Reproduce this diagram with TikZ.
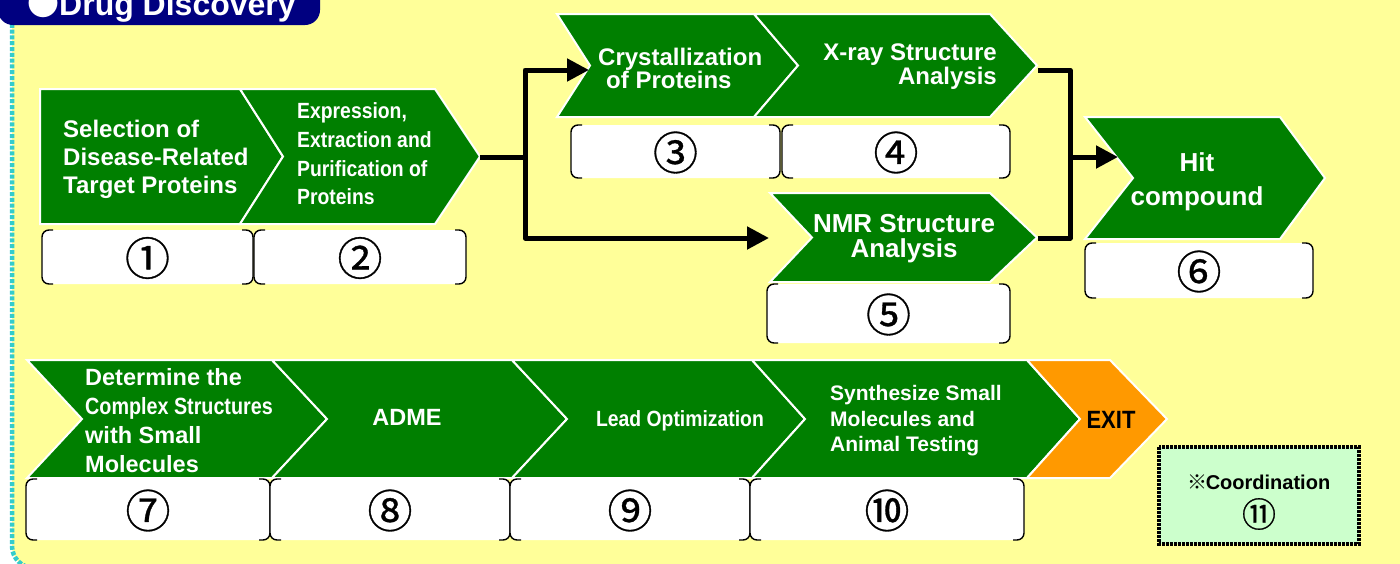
\documentclass[tikz,border=0pt]{standalone}
\usepackage{fontspec}
\setmainfont{Liberation Sans}
\newfontfamily\narf[FakeStretch=0.88]{Liberation Sans}
\newfontfamily\narg[FakeStretch=0.84]{Liberation Sans}
\newfontfamily\cjkf{Noto Sans CJK JP}
\newfontfamily\cjkn[FakeBold=0.7]{Noto Sans CJK JP}
\usetikzlibrary{arrows.meta}
\definecolor{bgyel}{HTML}{FFFF99}
\definecolor{tabnavy}{HTML}{000080}
\definecolor{chgreen}{HTML}{007F00}
\definecolor{chorange}{HTML}{FF9900}
\definecolor{bordcyan}{HTML}{33CCCC}
\definecolor{coordgreen}{HTML}{CCFFCC}
\tikzset{
  chev/.style={draw=white, line width=2pt, line join=miter},
  lbl/.style={text=white, inner sep=0pt},
  conn/.style={line width=5pt, black, line join=round},
  tipa/.style={-{Triangle[length=22pt,width=22pt]}},
  nbr/.style={line width=1.4pt, black, rounded corners=7pt},
  numtxt/.style={font=\cjkn\fontsize{45}{45}\selectfont, inner sep=0pt},
}
\newcommand\chevshape[7]{%
  \filldraw[chev, fill=#1] (#2,#4) -- (#3,#4) -- ({#3+#7},{(#4+#5)/2}) -- (#3,#5) -- (#2,#5) -- ({#2+#6},{(#4+#5)/2}) -- cycle;}
\newcommand\nbox[6]{%
  \fill[white, rounded corners=7pt] (#2,#4) rectangle (#3,#5);
  \draw[nbr] ({#2+11},#4) -- (#2,#4) -- (#2,#5) -- ({#2+11},#5);
  \draw[nbr] ({#3-11},#4) -- (#3,#4) -- (#3,#5) -- ({#3-11},#5);
  \node[numtxt] (#1) at ({(#2+#3)/2},{(#4+#5)/2+1}) {#6};}
\begin{document}
\begin{tikzpicture}[x=1pt,y=-1pt]
\useasboundingbox (0,0) rectangle (1400,563);
\fill[white] (0,0) rectangle (1400,563);
\fill[bgyel, rounded corners=22pt] (12,-40) -- (12,568) -- (1450,568) -- (1450,-40) -- cycle;
\draw[bordcyan, line width=4.5pt, dash pattern=on 4pt off 1.8pt, rounded corners=22pt] (12,-40) -- (12,568) -- (1450,568);
% title tab
\fill[tabnavy, rounded corners=15pt] (-2,-40) -- (-2,25) -- (320,25) -- (320,-40) -- cycle;
\node[anchor=base west, text=white, inner sep=0pt, font=\bfseries\fontsize{32}{32}\selectfont] (title) at (27,15) {{\cjkf ●}Drug Discovery};

% row 1 chevrons
\chevshape{chgreen}{40}{240}{89}{224}{0}{43}
\chevshape{chgreen}{240}{435}{89}{224}{43}{45}
\chevshape{chgreen}{557}{754}{14}{117}{33}{44}
\chevshape{chgreen}{754}{990}{14}{117}{44}{47}
\chevshape{chgreen}{770}{990}{193}{282}{42}{47}
\chevshape{chgreen}{1085}{1280}{117}{239}{48}{45}
% row 2 chevrons
\chevshape{chgreen}{27}{272}{360}{478}{55}{55}
\chevshape{chgreen}{272}{512}{360}{478}{55}{55}
\chevshape{chgreen}{512}{752}{360}{478}{55}{53}
\chevshape{chgreen}{752}{1027}{360}{478}{53}{53}
\chevshape{chorange}{1027}{1110}{360}{478}{53}{57}

% labels
\node[lbl, anchor=west, align=left, font=\bfseries\fontsize{24}{28}\selectfont] (t1) at (63,159) {Selection of\\Disease-Related\\Target Proteins};
\node[lbl, anchor=west, align=left, font=\narf\bfseries\fontsize{22}{28.7}\selectfont] (t2) at (297,154) {Expression,\\Extraction and\\Purification of\\Proteins};
\node[lbl, anchor=west, align=left, font=\bfseries\fontsize{24}{23}\selectfont] (t3) at (598,68) {Crystallization\\\hspace*{8pt}of Proteins};
\node[lbl, anchor=east, align=right, font=\bfseries\fontsize{24}{24}\selectfont] (t4) at (997,67) {X-ray Structure\\Analysis};
\node[lbl, align=center, font=\bfseries\fontsize{26}{25}\selectfont] (t5) at (904,239) {NMR Structure\\Analysis};
\node[lbl, align=center, font=\bfseries\fontsize{26}{34}\selectfont] (t6) at (1197,182) {Hit\\compound};
\node[lbl, anchor=west, align=left, font=\bfseries\fontsize{23.5}{29}\selectfont] (t7) at (85,421) {Determine the\\{\narg Complex Structures}\\with Small\\Molecules};
\node[lbl, font=\bfseries\fontsize{23.5}{23.5}\selectfont] (t8) at (407,417) {ADME};
\node[lbl, font=\narf\bfseries\fontsize{22}{22}\selectfont] (t9) at (680,421) {Lead Optimization};
\node[lbl, anchor=west, align=left, font=\bfseries\fontsize{21}{25.5}\selectfont] (t10) at (830,421) {Synthesize Small\\Molecules and\\Animal Testing};
\node[inner sep=0pt, text=black, font=\narf\bfseries\fontsize{25}{25}\selectfont] (t11) at (1111,420) {EXIT};

% number boxes
\nbox{n1}{42}{253}{230}{284}{①}
\nbox{n2}{254}{466}{230}{284}{②}
\nbox{n3}{571}{780}{125}{178}{③}
\nbox{n4}{782}{1010}{125}{178}{④}
\nbox{n5}{767}{1010}{284}{343}{⑤}
\nbox{n6}{1085}{1313}{243}{298}{⑥}
\nbox{n7}{26}{270}{479}{540}{⑦}
\nbox{n8}{270}{510}{479}{540}{⑧}
\nbox{n9}{510}{750}{479}{540}{⑨}
\nbox{n10}{750}{1024}{479}{540}{⑩}

% coordination box
\filldraw[fill=coordgreen, draw=black, line width=4pt, dash pattern=on 3pt off 1pt] (1159,447) rectangle (1359,544);
\node[inner sep=0pt, font=\bfseries\fontsize{20}{20}\selectfont] (coord) at (1259,482) {{\cjkf\bfseries ※}\kern-2pt Coordination};
\node[inner sep=0pt, font=\cjkn\fontsize{34}{34}\selectfont] (n11) at (1259,514) {⑪};

% connectors
\coordinate (s2tip) at (480,157);
\coordinate (j1) at (525,157);
\coordinate (a3end) at (589,70);
\coordinate (a5end) at (769,238);
\coordinate (s4tip) at (1038,70);
\coordinate (s5tip) at (1038,238);
\coordinate (j2top) at (1070,70);
\coordinate (j2bot) at (1070,238);
\coordinate (j2) at (1070,157);
\coordinate (a6end) at (1118,157);
\draw[conn] (s2tip) -- (j1);
\draw[conn, tipa] (j1) |- (a3end);
\draw[conn, tipa] (j1) |- (a5end);
\draw[conn] (s4tip) -- (j2top) -- (j2bot) -- (s5tip);
\draw[conn, tipa] (j2) -- (a6end);
\end{tikzpicture}
\end{document}
